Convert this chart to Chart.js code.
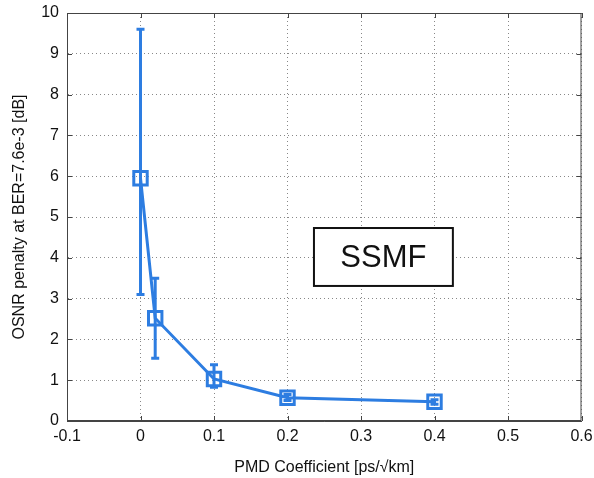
<!DOCTYPE html>
<html>
<head>
<meta charset="utf-8">
<script src="https://cdn.jsdelivr.net/npm/chart.js@4.4.0/dist/chart.umd.min.js"></script>
<style>
  html, body { margin: 0; padding: 0; background: #fff; }
  #wrap { width: 594px; height: 478px; }
</style>
</head>
<body>
<div id="wrap"><canvas id="pmdChart"></canvas></div>
<script>
// values
const pmdCoef = [0, 0.02, 0.1, 0.2, 0.4];
const osnrPenalty = [5.95, 2.52, 1.03, 0.57, 0.47];
const errLow = [3.1, 1.54, 0.83, 0.5, 0.41];
const errHigh = [9.6, 3.5, 1.38, 0.65, 0.52];

const xTicks = [-0.1, 0, 0.1, 0.2, 0.3, 0.4, 0.5, 0.6];
const yTicks = [0, 1, 2, 3, 4, 5, 6, 7, 8, 9, 10];

const blue = 'rgb(45,125,225)';

// label box in data units
const boxLabel = 'SSMF';
const boxX = [0.236, 0.425];
const boxY = [3.31, 4.73];

const errorBars = {
  id: 'errorBars',
  beforeDatasetsDraw(chart) {
    const { ctx, scales: { x, y } } = chart;
    ctx.save();
    ctx.strokeStyle = blue;
    ctx.lineWidth = 3;
    ctx.lineCap = 'butt';
    for (let i = 0; i < pmdCoef.length; i++) {
      const px = x.getPixelForValue(pmdCoef[i]);
      const lo = y.getPixelForValue(errLow[i]);
      const hi = y.getPixelForValue(errHigh[i]);
      ctx.beginPath();
      ctx.moveTo(px, lo);
      ctx.lineTo(px, hi);
      ctx.moveTo(px - 4, lo);
      ctx.lineTo(px + 4, lo);
      ctx.moveTo(px - 4, hi);
      ctx.lineTo(px + 4, hi);
      ctx.stroke();
    }
    ctx.restore();
  },
  afterDraw(chart) {
    const { ctx, chartArea: a, scales: { x, y } } = chart;
    ctx.save();
    // frame
    ctx.strokeStyle = '#444';
    ctx.lineWidth = 1;
    ctx.strokeRect(a.left + 0.5, a.top + 0.5, a.right - a.left - 1, a.bottom - a.top - 1);
    // inward ticks
    ctx.beginPath();
    xTicks.forEach(v => {
      const px = Math.round(x.getPixelForValue(v)) + 0.5;
      ctx.moveTo(px, a.bottom); ctx.lineTo(px, a.bottom - 5);
      ctx.moveTo(px, a.top); ctx.lineTo(px, a.top + 5);
    });
    yTicks.forEach(v => {
      const py = Math.round(y.getPixelForValue(v)) + 0.5;
      ctx.moveTo(a.left, py); ctx.lineTo(a.left + 5, py);
      ctx.moveTo(a.right, py); ctx.lineTo(a.right - 5, py);
    });
    ctx.stroke();
    // SSMF box
    const bx1 = x.getPixelForValue(boxX[0]);
    const bx2 = x.getPixelForValue(boxX[1]);
    const by1 = y.getPixelForValue(boxY[1]);
    const by2 = y.getPixelForValue(boxY[0]);
    ctx.fillStyle = '#fff';
    ctx.fillRect(bx1, by1, bx2 - bx1, by2 - by1);
    ctx.strokeStyle = '#111';
    ctx.lineWidth = 2;
    ctx.strokeRect(bx1, by1, bx2 - bx1, by2 - by1);
    ctx.fillStyle = '#111';
    ctx.font = '31px "Liberation Sans", Arial, sans-serif';
    ctx.textAlign = 'center';
    ctx.textBaseline = 'middle';
    ctx.fillText(boxLabel, (bx1 + bx2) / 2, (by1 + by2) / 2 + 1);
    ctx.restore();
  }
};

const tickFont = { family: '"Liberation Sans", Arial, sans-serif', size: 16 };

new Chart(document.getElementById('pmdChart'), {
  type: 'scatter',
  data: {
    datasets: [{
      label: 'SSMF',
      data: pmdCoef.map((v, i) => ({ x: v, y: osnrPenalty[i] })),
      showLine: true,
      borderColor: blue,
      borderWidth: 3,
      backgroundColor: 'rgba(0,0,0,0)',
      pointStyle: 'rect',
      pointRadius: 9.5,
      pointBorderWidth: 3,
      pointBorderColor: blue,
      pointBackgroundColor: 'rgba(0,0,0,0)',
      tension: 0
    }]
  },
  plugins: [errorBars],
  options: {
    responsive: true,
    maintainAspectRatio: false,
    animation: false,
    layout: { padding: { top: 13, right: 12, left: 0, bottom: 0 } },
    plugins: {
      legend: { display: false },
      tooltip: { enabled: false }
    },
    scales: {
      x: {
        type: 'linear',
        min: -0.1,
        max: 0.6,
        afterBuildTicks: (s) => { s.ticks = xTicks.map(v => ({ value: v })); },
        afterFit: (s) => { s.height = 57; s.paddingLeft = 0; s.paddingRight = 0; },
        ticks: {
          font: tickFont,
          color: '#111',
          padding: 6,
          maxRotation: 0,
          callback: (v) => String(Math.round(v * 10) / 10)
        },
        grid: {
          color: '#888',
          lineWidth: 1,
          drawTicks: false
        },
        border: { display: true, color: '#444', dash: [1, 3] },
        title: {
          display: true,
          text: 'PMD Coefficient [ps/√km]',
          font: tickFont,
          color: '#111',
          padding: { top: 0, bottom: 1 }
        }
      },
      y: {
        type: 'linear',
        min: 0,
        max: 10,
        afterBuildTicks: (s) => { s.ticks = yTicks.map(v => ({ value: v })); },
        afterFit: (s) => { s.width = 67; s.paddingTop = 0; s.paddingBottom = 0; },
        ticks: {
          font: tickFont,
          color: '#111',
          padding: 8
        },
        grid: {
          color: '#888',
          lineWidth: 1,
          drawTicks: false
        },
        border: { display: true, color: '#444', dash: [1, 3] },
        title: {
          display: true,
          text: 'OSNR penalty at BER=7.6e-3 [dB]',
          font: tickFont,
          color: '#111',
          padding: { top: 10, bottom: 0 }
        }
      }
    }
  }
});
</script>
</body>
</html>
